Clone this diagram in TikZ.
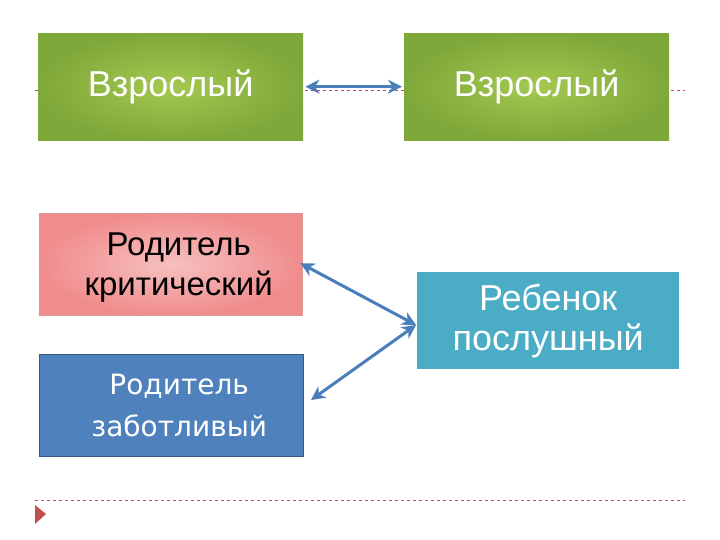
\documentclass[tikz,border=0pt]{standalone}
\usepackage{fontspec}
\setmainfont{Liberation Sans}
\newfontfamily\dv{DejaVu Sans}
\usetikzlibrary{arrows.meta}
\definecolor{grn}{HTML}{7FA83A}
\definecolor{grnl}{HTML}{A3C950}
\definecolor{pnk}{HTML}{F08C8C}
\definecolor{pnkl}{HTML}{F7C0C0}
\definecolor{blu}{HTML}{4F81BD}
\definecolor{teal}{HTML}{4BACC6}
\definecolor{arr}{HTML}{4A7EBB}
\definecolor{dred}{HTML}{C0504D}
\begin{document}
\begin{tikzpicture}[x=1pt,y=-1pt,
 box/.style={minimum width=265pt,minimum height=107pt,anchor=north west,inner sep=0pt,align=center,font=\fontsize{36}{40}\selectfont},
 grbox/.style={box,inner color=grnl,outer color=grn,text=white},
 dl/.style={dred,dashed,line width=0.7pt},
 ar/.style={arr,line width=3pt,{Stealth[length=14pt,width=14pt]}-{Stealth[length=14pt,width=14pt]}}]
\useasboundingbox (0,0) rectangle (720,540);
\fill[white] (0,0) rectangle (720,540);
\draw[dl] (35,90) -- (685,90);
\draw[dl] (35,500) -- (685,500);
\node[grbox] (a1) at (38,33) {Взрослый};
\node[grbox] (a2) at (404,33) {Взрослый};
\node[box,inner color=pnkl,outer color=pnk,draw=dred!60,minimum height=102pt,minimum width=263pt,font=\fontsize{33}{40}\selectfont,text depth=0pt] (p) at (39,213) {\hspace*{16pt}Родитель\\\hspace*{16pt}критический};
\node[box,fill=blu,draw=blu!70!black,text=white,minimum height=102pt,minimum width=264pt,font=\dv\fontsize{28}{42}\selectfont] (c) at (39,354) {\hspace*{16pt}Родитель\\\hspace*{16pt}заботливый};
\node[box,fill=teal,text=white,minimum height=97pt,minimum width=262pt] (r) at (417,272) {Ребенок\\послушный};
\fill[dred] (35,505) -- (46,514) -- (35,524) -- cycle;
\coordinate (m) at (416,325);
\draw[ar] (a1.east) ++(2,0) -- ([xshift=-2pt]a2.west);
\draw[ar] (p.east) ++(-2,-1) -- (m);
\draw[ar] (m) -- (311,400);
\end{tikzpicture}
\end{document}
